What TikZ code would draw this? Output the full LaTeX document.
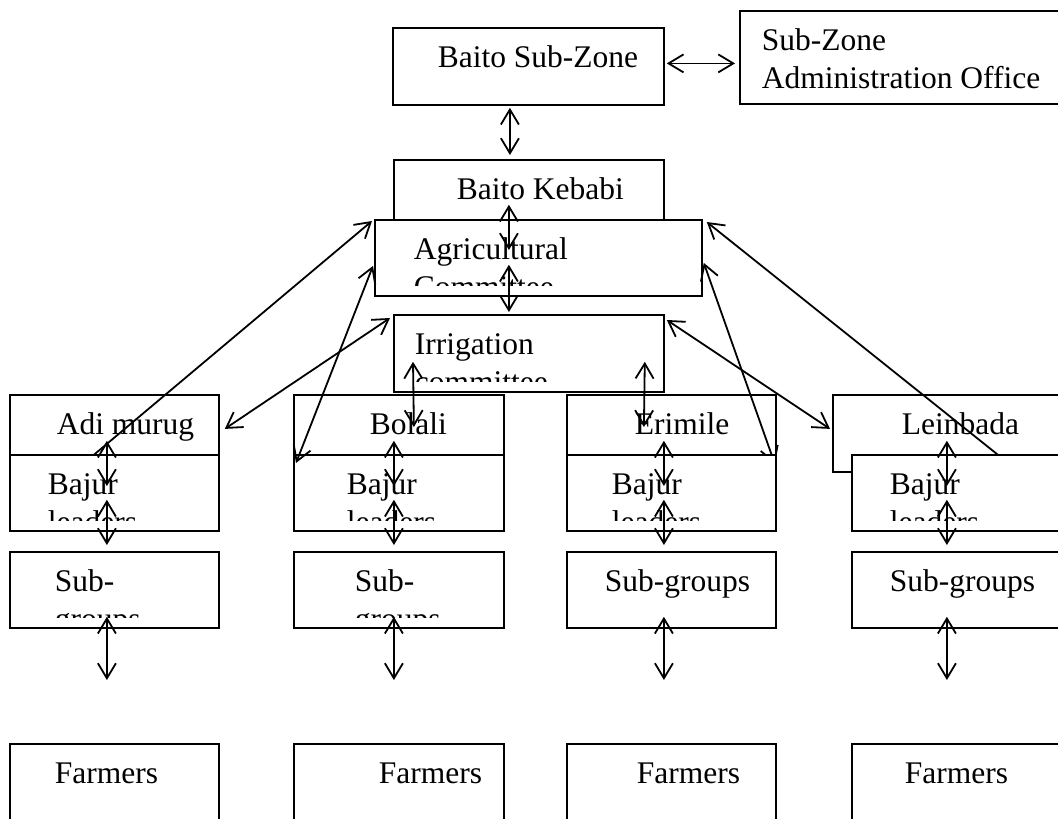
\documentclass[tikz,border=0pt]{standalone}
\usepackage{fontspec}
\setmainfont{Liberation Serif}
\usepackage{tikz}
\usetikzlibrary{calc,arrows.meta}

\begin{document}
\begin{tikzpicture}[x=1pt, y=-1pt, line width=1.8pt,
        >={Straight Barb[length=15pt,width=18pt]},
        boxtext/.style={anchor=base west, inner sep=0pt, draw=none, fill=none, minimum width=0pt, minimum height=0pt,
            font=\fontsize{31.5}{38}\selectfont},
        orgbox/.style 2 args={draw, fill=white, rectangle, anchor=north west, inner sep=0pt, minimum height=77,
            path picture={
                \clip (path picture bounding box.north west) rectangle ($(path picture bounding box.south east)+(0,-10)$);
                \node[boxtext] at ($(path picture bounding box.north west)+(#1,40)$) {\parbox[t]{400pt}{#2}};}}]
                \clip (0,0) rectangle (1058,819);
                \node[orgbox={44}{Baito Sub-Zone}, minimum width=271] (bsz) at (392,27) {};
                \node[orgbox={21}{Sub-Zone\\Administration Office}, minimum width=340, minimum height=93] (adm) at (739,10) {};
                \node[orgbox={62}{Baito Kebabi}, minimum width=270, minimum height=76] (kebabi) at (393,159) {};
                \node[orgbox={38}{Agricultural\\Committee}, minimum width=327, minimum height=76] (agri) at (374,219) {};
                \node[orgbox={20}{Irrigation\\committee}, minimum width=270] (irr) at (393,314) {};
                \foreach \c/\x/\w/\dx/\lbl in {A/9/209/46/Adi murug, B/293/210/75/Bolali, C/566/209/67/Erimile, D/832/300/68/Leinbada} {
                    \node[orgbox={\dx}{\lbl}, minimum width=\w] (top\c) at (\x,394) {};
                }
                \draw[->] ($(topA.south)+(-20.5,-18)$) -- ($(agri.north west)+(-2,2)$);
                \draw[<->] ($(topC.south east)+(-2,-9)$) -- ($(agri.east)+(1,5)$);
                \draw[->] ($(topD.south)+(15,-18)$) -- ($(agri.north east)+(4,3)$);
                \foreach \c/\x/\w/\dx in {A/9/209/37, B/293/210/52, C/566/209/44, D/851/300/37} {
                    \node[orgbox={\dx}{Bajur\\leaders}, minimum width=\w, minimum height=76] (baj\c) at (\x,454) {};
                }
                \foreach \c/\x/\w/\dx/\lbl in {A/9/209/44/{Sub-\\groups}, B/293/210/60/{Sub-\\groups}, C/566/209/37/Sub-groups, D/851/300/37/Sub-groups} {
                    \node[orgbox={\dx}{\lbl}, minimum width=\w, minimum height=76] (sub\c) at (\x,551) {};
                }
                \foreach \c/\x/\w/\dx in {A/9/209/44, B/293/210/84, C/566/209/69, D/851/300/52} {
                    \node[orgbox={\dx}{Farmers}, minimum width=\w, minimum height=100] (farm\c) at (\x,743) {};
                }
                \draw[<->] ($(bsz.east)+(2,-3)$) -- ($(adm.west)+(-4,6)$);
                \draw[<->] ($(bsz.south)+(-18.5,2)$) -- ($(kebabi.north)+(-19,-4)$);
                \draw[<->] ($(kebabi.south)+(-20,-32)$) -- ($(agri.north)+(-29.5,31)$);
                \draw[<->] ($(agri.south)+(-29.5,-32)$) -- ($(irr.north)+(-20,-2)$);
                \draw[<->] ($(irr.south west)+(20,-31)$) -- ($(topB.north)+(15,33)$);
                \draw[<->] ($(irr.south east)+(-20,-31)$) -- ($(topC.north)+(-27.5,33)$);
                \draw[<->] ($(topA.east)+(5,-4.5)$) -- ($(irr.north west)+(-3,4)$);
                \draw[<->] ($(bajB.north west)+(3,9)$) -- ($(agri.west)+(-1,8)$);
                \draw[<->] ($(irr.north east)+(2,6)$) -- ($(topD.west)+(-2,-4.5)$);
                \foreach \c/\dx in {A/-7.5, B/-5, C/-7.5, D/-55} {
                    \draw[<->] ($(top\c.south -| baj\c.north)+(\dx,-32)$) -- ($(baj\c.north)+(\dx,32)$);
                    \draw[<->] ($(baj\c.south)+(\dx,-32)$) -- ($(sub\c.north)+(\dx,-6)$);
                    \draw[<->] ($(sub\c.south)+(\dx,-12)$) -- ($(farm\c.north)+(\dx,-63)$);
                }
            \end{tikzpicture}
\end{document}
